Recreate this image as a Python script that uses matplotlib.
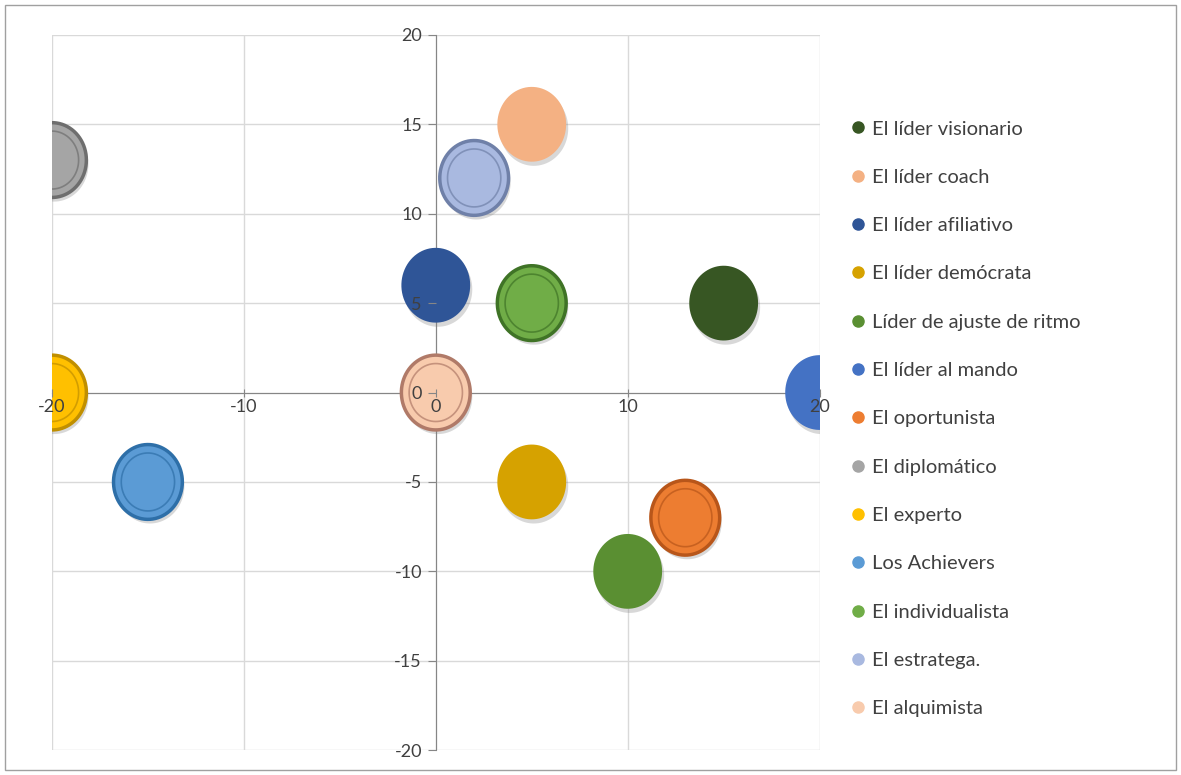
import numpy as np
import matplotlib
matplotlib.use("Agg")
import matplotlib.pyplot as plt
from matplotlib.lines import Line2D
from matplotlib.path import Path
from matplotlib.markers import MarkerStyle
import matplotlib.patheffects as pe

plt.rcParams['font.family'] = ['Lato', 'DejaVu Sans']
plt.rcParams['axes.unicode_minus'] = False

# series (one bubble each)
names = ['El líder visionario', 'El líder coach', 'El líder afiliativo',
         'El líder demócrata', 'Líder de ajuste de ritmo', 'El líder al mando',
         'El oportunista', 'El diplomático', 'El experto', 'Los Achievers',
         'El individualista', 'El estratega.', 'El alquimista']
xs = [15, 5, 0, 5, 10, 20, 13, -20, -20, -15, 5, 2, 0]
ys = [5, 15, 6, -5, -10, 0, -7, 13, 0, -5, 5, 12, 0]
colors = ['#375623', '#F4B183', '#2F5597', '#D6A200', '#5A8F32', '#4472C4',
          '#ED7D31', '#A5A5A5', '#FFC000', '#5B9BD5', '#70AD47', '#A9B9E0',
          '#F8CBAD']
edges = [None, None, None, None, None, None,
         '#B8561A', '#6E6E6E', '#C08F00', '#2E6FA8', '#3F7326', '#6F80A8',
         '#B07A68']
xticks = [-20, -10, 0, 10, 20]
yticks = list(range(-20, 21, 5))

# slightly tall ellipse marker, like the stretched original
t = np.linspace(0, 2 * np.pi, 80)
ell = Path(np.column_stack([np.cos(t) * 0.92, np.sin(t)]), closed=True)
mk = MarkerStyle(ell)

fig = plt.figure(figsize=(11.81, 7.75), dpi=100)
ax = fig.add_axes([0.044, 0.032, 0.65, 0.923])
ax.set_xlim(-20, 20)
ax.set_ylim(-20, 20)

# grid drawn under bubbles (axis itself is raised so labels sit on top)
for v in xticks:
    ax.axvline(v, color='#D9D9D9', linewidth=1, zorder=1)
for v in yticks:
    ax.axhline(v, color='#D9D9D9', linewidth=1, zorder=1)

size = 2900
shadow = [pe.SimplePatchShadow(offset=(1.5, -3), shadow_rgbFace='#808080', alpha=0.3),
          pe.Normal()]
for x, y, c, e in zip(xs, ys, colors, edges):
    if e is None:
        ax.scatter([x], [y], s=size, marker=mk, color=c, linewidths=0,
                   zorder=3, path_effects=shadow)
    else:
        ax.scatter([x], [y], s=size, marker=mk, color=c, edgecolors=e,
                   linewidths=2.5, zorder=3, path_effects=shadow)
        ax.scatter([x], [y], s=size * 0.6, marker=mk, facecolors='none',
                   edgecolors=e, linewidths=1.2, alpha=0.7, zorder=4)

ax.set_xticks(xticks)
ax.set_yticks(yticks)
for s in ['top', 'right']:
    ax.spines[s].set_visible(False)
ax.spines['left'].set_position(('data', 0))
ax.spines['bottom'].set_position(('data', 0))
ax.spines['left'].set_color('#868686')
ax.spines['bottom'].set_color('#868686')
ax.spines['left'].set_zorder(2)
ax.spines['bottom'].set_zorder(2)
ax.tick_params(axis='y', length=6, color='#868686', labelsize=13,
               labelcolor='#404040', pad=4)
ax.tick_params(axis='x', length=6, direction='inout', color='#868686',
               labelsize=13, labelcolor='#404040', pad=2)
ax.xaxis.set_zorder(6)
ax.yaxis.set_zorder(6)

handles = [Line2D([], [], marker='o', linestyle='none', markersize=8,
                  markerfacecolor=c, markeredgecolor=c) for c in colors]
fig.legend(handles, names, loc='upper left', bbox_to_anchor=(0.701, 0.868),
           frameon=False, fontsize=14.5, labelspacing=1.55, handletextpad=0.1,
           handlelength=1.2, labelcolor='#404040')

# outer chart border
fig.patches.append(plt.Rectangle((0.004, 0.006), 0.992, 0.988, transform=fig.transFigure,
                                 fill=False, edgecolor='#A0A0A0', linewidth=1))

fig.savefig('out.png', dpi=100)
